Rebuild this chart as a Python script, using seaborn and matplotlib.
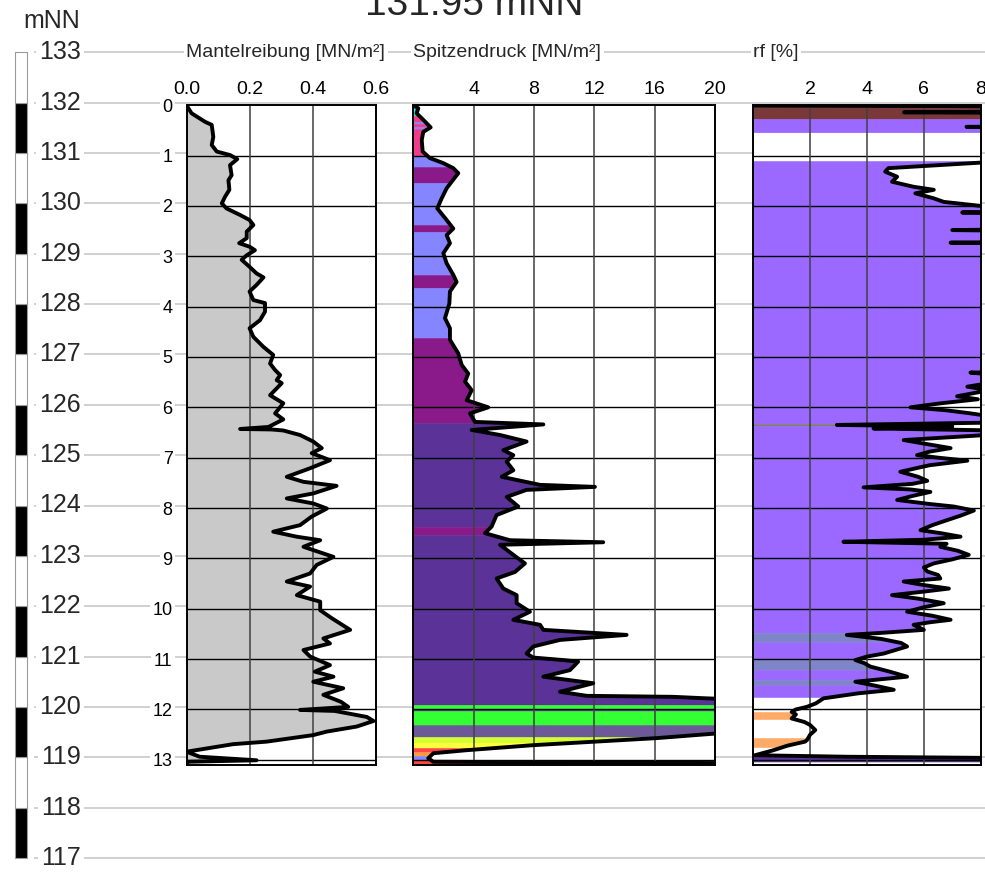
import numpy as np
import pandas as pd
import matplotlib
matplotlib.use("Agg")
import matplotlib.pyplot as plt
from matplotlib.patches import Polygon
import seaborn as sns

sns.set_style("white")
plt.rcParams['font.family'] = ['Liberation Sans', 'DejaVu Sans']

# ---------------- data ----------------
TITLE = "131.95 mNN"
ELEV_UNIT = "mNN"
GROUND_ELEV = 131.95
ELEV_TICKS = list(range(133, 116, -1))
DEPTH_TICKS = list(range(0, 14))
DEPTH_MAX = 13.1

FS_TITLE = "Mantelreibung [MN/m²]"
QC_TITLE = "Spitzendruck [MN/m²]"
RF_TITLE = "rf [%]"

FS_TICKS = [0.0, 0.2, 0.4, 0.6]
FS_TICKLABELS = ["0.0", "0.2", "0.4", "0.6"]
QC_TICKS = [4, 8, 12, 16, 20]
RF_TICKS = [2, 4, 6, 8]

fs_depth = [0.00, 0.16, 0.33, 0.39, 0.63, 0.79, 0.92, 0.99, 1.07, 1.19, 1.39, 1.49, 1.68, 1.82,
            1.95, 2.05, 2.18, 2.28, 2.38, 2.51, 2.64, 2.74, 2.81, 2.88, 2.98, 3.07, 3.21, 3.34,
            3.42, 3.57, 3.70, 3.87, 3.93, 4.10, 4.27, 4.43, 4.60, 4.80, 4.96, 5.13, 5.26, 5.36,
            5.46, 5.52, 5.76, 5.92, 6.12, 6.24, 6.39, 6.43, 6.44, 6.46, 6.55, 6.68, 6.81, 6.91,
            7.05, 7.21, 7.38, 7.48, 7.56, 7.71, 7.81, 7.91, 8.01, 8.17, 8.34, 8.47, 8.57, 8.64,
            8.77, 8.97, 9.13, 9.30, 9.46, 9.56, 9.73, 9.86, 10.03, 10.19, 10.42, 10.59, 10.69,
            10.82, 10.95, 11.12, 11.25, 11.35, 11.45, 11.58, 11.71, 11.85, 11.95, 12.01, 12.03,
            12.15, 12.23, 12.34, 12.44, 12.51, 12.64, 12.69, 12.84, 12.94, 13.01, 13.04, 13.08]
fs_value = [0.000, 0.016, 0.059, 0.080, 0.085, 0.080, 0.096, 0.138, 0.161, 0.138, 0.143, 0.133,
            0.136, 0.122, 0.112, 0.127, 0.170, 0.200, 0.212, 0.191, 0.191, 0.167, 0.200, 0.217,
            0.191, 0.175, 0.200, 0.222, 0.244, 0.222, 0.200, 0.212, 0.249, 0.249, 0.233, 0.200,
            0.212, 0.244, 0.275, 0.265, 0.281, 0.297, 0.286, 0.302, 0.265, 0.307, 0.281, 0.307,
            0.260, 0.170, 0.270, 0.307, 0.360, 0.402, 0.429, 0.397, 0.455, 0.392, 0.318, 0.371,
            0.476, 0.402, 0.318, 0.402, 0.445, 0.397, 0.360, 0.275, 0.350, 0.424, 0.371, 0.466,
            0.413, 0.392, 0.318, 0.392, 0.350, 0.424, 0.424, 0.461, 0.519, 0.434, 0.455, 0.371,
            0.392, 0.455, 0.407, 0.466, 0.402, 0.497, 0.434, 0.490, 0.513, 0.360, 0.470, 0.572,
            0.593, 0.540, 0.445, 0.402, 0.254, 0.148, 0.000, 0.042, 0.222, 0.000, 0.000]

qc_depth = [0.00, 0.02, 0.06, 0.16, 0.29, 0.44, 0.53, 0.69, 0.92, 1.05, 1.15, 1.25, 1.35, 1.52,
            1.65, 1.85, 2.05, 2.28, 2.45, 2.58, 2.74, 2.94, 3.14, 3.37, 3.51, 3.70, 3.94, 4.23,
            4.43, 4.66, 4.93, 5.16, 5.33, 5.49, 5.66, 5.86, 6.00, 6.12, 6.29, 6.34, 6.45, 6.55,
            6.68, 6.85, 6.95, 7.08, 7.25, 7.38, 7.54, 7.58, 7.64, 7.78, 7.97, 8.14, 8.37, 8.50,
            8.64, 8.68, 8.73, 8.93, 9.10, 9.27, 9.40, 9.60, 9.73, 9.89, 10.06, 10.22, 10.32,
            10.42, 10.52, 10.62, 10.75, 10.89, 10.97, 11.02, 11.05, 11.22, 11.35, 11.48, 11.65,
            11.73, 11.75, 11.78, 11.83, 12.46, 12.48, 12.57, 12.71, 12.81, 12.87, 12.97, 13.04,
            13.07, 13.10]
qc_value = [0.10, 0.10, 0.33, 0.22, 0.66, 1.15, 0.66, 0.56, 0.62, 1.10, 1.99, 2.65, 2.98, 2.54,
            2.21, 1.88, 1.59, 2.21, 2.65, 2.21, 2.43, 1.99, 2.21, 2.65, 2.87, 2.43, 2.39, 2.10,
            2.43, 2.43, 2.98, 3.21, 3.64, 3.43, 3.87, 3.54, 4.97, 3.76, 4.09, 8.62, 3.87, 5.75,
            7.51, 5.97, 6.63, 6.19, 6.63, 5.86, 8.40, 12.04, 7.50, 6.19, 6.96, 5.52, 5.19, 4.75,
            6.41, 12.59, 5.75, 6.63, 7.40, 6.74, 5.52, 5.97, 6.85, 6.85, 7.73, 6.63, 8.40,
            8.62, 14.14, 9.72, 7.95, 7.51, 7.95, 9.94, 10.93, 10.38, 8.62, 11.93, 9.72,
            11.49, 17.23, 19.44, 24.0, 24.0, 20.0, 16.13, 7.95, 3.53, 1.33, 0.99, 1.33,
            24.0, 24.0]

rf_depth = [0.00, 0.03, 0.12, 0.14, 0.16, 0.40, 0.43, 0.46, 0.55,
            1.10, 1.14, 1.25, 1.32, 1.42, 1.52, 1.62, 1.68, 1.75, 1.85, 1.92, 2.00, 2.06, 2.11,
            2.13, 2.16, 2.45, 2.48, 2.51, 2.70, 2.73, 2.76, 5.28, 5.31, 5.36, 5.50, 5.59, 5.66,
            5.78, 5.84, 5.92, 6.00, 6.06, 6.12, 6.20, 6.30, 6.35, 6.38, 6.42, 6.46, 6.55, 6.65,
            6.72, 6.81, 6.88, 6.95, 7.00, 7.06, 7.15, 7.28, 7.38, 7.46, 7.52, 7.59, 7.63, 7.68,
            7.76, 7.84, 7.92, 7.97, 8.05, 8.15, 8.24, 8.34, 8.44, 8.50, 8.57, 8.63, 8.67, 8.71,
            8.77, 8.85, 8.93, 9.02, 9.10, 9.18, 9.26, 9.33, 9.40, 9.46, 9.53, 9.60, 9.66, 9.73,
            9.80, 9.89, 9.97, 10.06, 10.14, 10.22, 10.27, 10.32, 10.42, 10.48, 10.52, 10.60,
            10.68, 10.75, 10.82, 10.89, 10.95, 11.02, 11.08, 11.15, 11.25, 11.35, 11.40, 11.45,
            11.53, 11.61, 11.68, 11.78, 11.88, 11.95, 12.00, 12.05, 12.10, 12.18, 12.25, 12.31,
            12.41, 12.50, 12.60, 12.64, 12.72, 12.81, 12.91, 12.94, 12.98, 13.05]
rf_value = [0.0, 12, 12, 5.3, 12, 12, 7.5, 12, 12,
            12, 8.0, 4.75, 4.64, 5.06, 4.88, 5.64, 6.35, 5.70, 6.35, 6.70, 8.0, 12, 12,
            7.35, 12, 12, 7.0, 12, 12, 6.94, 12, 12, 7.64, 8.6, 8.5, 7.53, 8.3,
            7.17, 7.9, 6.6, 5.53, 6.8, 7.64, 8.6, 8.8, 2.94, 7.0, 4.23, 8.6, 8.2, 5.29,
            6.0, 6.94, 6.2, 5.76, 6.5, 7.53, 6.2, 5.17, 5.8, 6.12, 5.6, 3.88, 5.5, 6.23,
            5.6, 5.06, 6.2, 7.05, 7.76, 7.3, 6.82, 6.3, 5.88, 6.6, 7.29, 6.0, 3.17, 6.8,
            6.58, 7.2, 7.58, 7.0, 6.35, 6.0, 6.12, 6.5, 6.58, 5.29, 6.0, 6.88, 6.0, 4.88,
            5.8, 6.70, 6.0, 5.41, 6.3, 6.94, 6.2, 5.64, 6.00, 4.5, 3.29, 4.5,
            5.2, 5.41, 5.0, 4.59, 4.0, 3.59, 3.9, 4.12, 4.8, 5.41, 4.5, 3.59,
            4.3, 4.94, 3.7, 2.47, 2.2, 1.88, 1.5, 1.35, 1.5, 1.35, 1.8, 2.0,
            2.18, 2.0, 1.9, 1.82, 1.2, 0.71, 0.06, 3.29, 12, 12]
RF_TOP_POINTS = 9  # first record segment ends at 0.55 m, no data until 1.10 m
rf_segment = ["top"] * RF_TOP_POINTS + ["main"] * (len(rf_depth) - RF_TOP_POINTS)

# soil-behaviour bands (top depth, class)
qc_band_top = [0.00, 0.22, 0.33, 0.37, 0.44, 0.48, 1.00, 1.22, 1.55, 2.38, 2.51, 3.37, 3.63,
               4.62, 6.32, 8.37, 8.54, 11.91, 12.00, 12.03, 12.31, 12.54, 12.66, 12.77, 12.85,
               12.93, 13.01]
qc_band_class = ["cyan", "pink", "blue", "pink", "blue", "pink", "blue", "purple", "blue",
                 "purple", "blue", "purple", "blue", "purple", "indigo", "purple", "indigo",
                 "green", "indigo", "green", "greyviolet", "yellowgreen", "yellow", "red",
                 "orange", "blue", "red"]

rf_band_top = [0.00, 0.05, 0.28, 0.57, 1.10, 6.33, 6.38, 10.48, 10.66, 11.02, 11.22, 11.42,
               11.52, 11.75, 12.05, 12.20, 12.57, 12.74, 12.93]
rf_band_class = ["dark", "brown", "lilac", "none", "lilac", "olive", "lilac", "slate", "lilac",
                 "slate", "lilac", "slate", "lilac", "none", "peach", "none", "peach", "none",
                 "indigo"]

CLASS_COLORS = {
    "cyan": "#22dede", "pink": "#f03c8c", "blue": "#8585ff", "purple": "#8a1a8a",
    "indigo": "#5b3298", "green": "#33ff33", "greyviolet": "#6c5a98", "yellowgreen": "#d4ff30",
    "yellow": "#ffff40", "red": "#ff4545", "orange": "#ff9a40", "dark": "#402424",
    "brown": "#7a3838", "lilac": "#9b69ff", "olive": "#80806a", "slate": "#7f86c8",
    "peach": "#ffaa66",
}
FS_FILL = "#c9c9c9"

# ---------------- layout (pixel geometry) ----------------
W, H = 985, 877
Y_ELEV132 = 102.7
PX_PER_M = 50.35


def elev_at(ypx):
    return 132 - (ypx - Y_ELEV132) / PX_PER_M


def ypx_depth(d):
    return Y_ELEV132 + (132 - (GROUND_ELEV - d)) * PX_PER_M


fig = plt.figure(figsize=(W / 100, H / 100), dpi=100)

bg = fig.add_axes([0, 0, 1, 1], zorder=0)
bg.set_xlim(0, W)
bg.set_ylim(elev_at(H), elev_at(0))
bg.axis("off")

bg.hlines(ELEV_TICKS, 34, W, color="#c8c8c8", lw=1.2, zorder=1)

seg_bottom = list(range(117, 133))
seg_colors = ["black" if e % 2 == 1 else "white" for e in seg_bottom]
bg.bar([21] * len(seg_bottom), [1] * len(seg_bottom), bottom=seg_bottom, width=11.7,
       color=seg_colors, edgecolor="#9a9a9a", lw=0.8, zorder=2)

white_box = dict(boxstyle="square,pad=0.12", fc="white", ec="none")
for e in ELEV_TICKS:
    bg.text(81, e, str(e), ha="right", va="center", fontsize=18, bbox=white_box, zorder=3)
bg.text(52, elev_at(21), ELEV_UNIT, ha="center", va="center", fontsize=18)
fig.text(474.5 / W, 1 - 15 / H, TITLE, ha="center", va="baseline", fontsize=28)

top_px = ypx_depth(0)
bot_px = ypx_depth(DEPTH_MAX)


def make_panel(left, right):
    ax = fig.add_axes([left / W, 1 - bot_px / H, (right - left) / W, (bot_px - top_px) / H],
                      zorder=1)
    ax.set_facecolor("white")
    return ax


def band_fill(ax, depth, value, band_top, band_class, xmax):
    poly = Polygon(np.column_stack([[0] + list(value) + [0],
                                    [depth[0]] + list(depth) + [depth[-1]]]),
                   closed=True, transform=ax.transData)
    bottoms = band_top[1:] + [DEPTH_MAX]
    for t, b, c in zip(band_top, bottoms, band_class):
        if c == "none":
            continue
        bars = ax.barh([(t + b) / 2], [xmax * 2], height=[b - t], left=0,
                       color=CLASS_COLORS[c], edgecolor=CLASS_COLORS[c], lw=0.4, zorder=1)
        for bar in bars:
            bar.set_clip_path(poly)


def style_panel(ax, xmax, xticks, xticklabels, title, left):
    ax.set_xlim(0, xmax)
    ax.set_ylim(DEPTH_MAX, 0)
    ax.xaxis.tick_top()
    ax.set_xticks(xticks)
    ax.set_xticklabels(xticklabels)
    ax.tick_params(axis="x", length=0, pad=5, labelsize=14, colors="black")
    ax.set_xlabel("")
    ax.set_ylabel("")
    ax.hlines(DEPTH_TICKS[1:], 0, xmax, color="black", lw=1.0, zorder=3)
    ax.vlines([t for t in xticks if t < xmax], 0, DEPTH_MAX, color="#404040", lw=1.1, zorder=3)
    for s in ax.spines.values():
        s.set_color("black")
        s.set_linewidth(1.4)
        s.set_zorder(6)
    bg.text(left, 133, title, ha="left", va="center", fontsize=14, bbox=white_box, zorder=3)


line_kw = dict(color="black", lw=2.8, estimator=None, sort=False, orient="y", legend=False,
               solid_joinstyle="round", solid_capstyle="round", zorder=5)

# Panel 1: Mantelreibung
ax1 = make_panel(186.5, 375.7)
ax1.fill_betweenx(fs_depth, 0, fs_value, color=FS_FILL, lw=0, zorder=1)
sns.lineplot(x=fs_value, y=fs_depth, ax=ax1, **line_kw)
style_panel(ax1, 0.6, FS_TICKS, FS_TICKLABELS, FS_TITLE, 186.5)
ax1.set_yticks(DEPTH_TICKS)
ax1.set_yticklabels([str(d) for d in DEPTH_TICKS])
ax1.tick_params(axis="y", length=0, pad=10, labelsize=13, colors="black")
for lbl in ax1.get_yticklabels():
    lbl.set_bbox(dict(boxstyle="square,pad=0.15", fc="white", ec="none"))

# Panel 2: Spitzendruck
ax2 = make_panel(413.3, 715.0)
band_fill(ax2, qc_depth, qc_value, qc_band_top, qc_band_class, 20)
sns.lineplot(x=qc_value, y=qc_depth, ax=ax2, **line_kw)
style_panel(ax2, 20, QC_TICKS, [str(t) for t in QC_TICKS], QC_TITLE, 413.3)
ax2.set_yticks([])

# Panel 3: rf
ax3 = make_panel(753.3, 980.7)
rf_df = pd.DataFrame({"depth": rf_depth, "rf": rf_value, "seg": rf_segment})
poly_depth = rf_depth[:RF_TOP_POINTS] + [0.55, 1.10] + rf_depth[RF_TOP_POINTS:]
poly_value = rf_value[:RF_TOP_POINTS] + [0, 0] + rf_value[RF_TOP_POINTS:]
band_fill(ax3, poly_depth, poly_value, rf_band_top, rf_band_class, 8)
sns.lineplot(data=rf_df, x="rf", y="depth", units="seg", ax=ax3, **line_kw)
style_panel(ax3, 8, RF_TICKS, [str(t) for t in RF_TICKS], RF_TITLE, 753.3)
ax3.set_yticks([])

fig.savefig("out.png", dpi=100)
